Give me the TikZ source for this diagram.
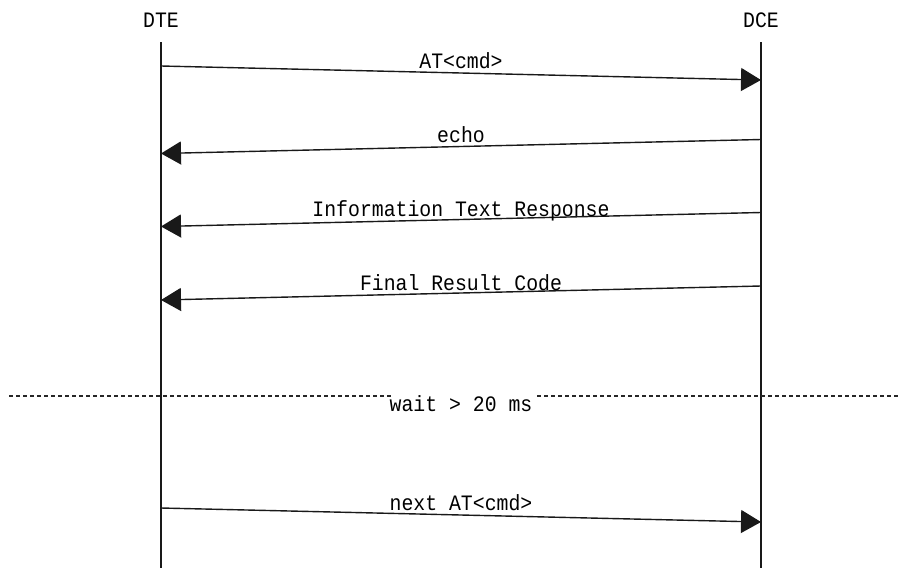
\documentclass[tikz,border=0pt]{standalone}
\usepackage{fontspec}
\newfontfamily\seqfont[FakeStretch=0.9]{Liberation Mono}
\usetikzlibrary{arrows.meta}
\begin{document}
\begin{tikzpicture}[x=1pt,y=-1pt,
  lbl/.style={font=\seqfont\fontsize{22}{26}\selectfont, inner sep=0pt, anchor=base, text=black},
  lifeline/.style={line width=1.6pt, draw=black!90},
  msg/.style={line width=1.4pt, draw=black!90, -{Triangle[length=20pt,width=23pt]}},
  sep/.style={line width=1.2pt, draw=black!85, dash pattern=on 4pt off 3pt}]
\useasboundingbox (0,0) rectangle (901,568);
% entities
\node[lbl] (dte) at (161,27) {DTE};
\node[lbl] (dce) at (761,27) {DCE};
\coordinate (dtetop) at (161,42);
\coordinate (dtebot) at (161,568);
\coordinate (dcetop) at (761,42);
\coordinate (dcebot) at (761,568);
\draw[lifeline] (dtetop) -- (dtebot);
\draw[lifeline] (dcetop) -- (dcebot);
% message end points
\coordinate (m1a) at (161,66);   \coordinate (m1b) at (761,80);
\coordinate (m2a) at (761,139.5);\coordinate (m2b) at (161,153.5);
\coordinate (m3a) at (761,212.5);\coordinate (m3b) at (161,226.5);
\coordinate (m4a) at (761,286);  \coordinate (m4b) at (161,300);
\coordinate (m5a) at (161,508);  \coordinate (m5b) at (761,522);
\draw[msg] (m1a) -- (m1b);
\draw[msg] (m2a) -- (m2b);
\draw[msg] (m3a) -- (m3b);
\draw[msg] (m4a) -- (m4b);
\draw[msg] (m5a) -- (m5b);
% labels
\node[lbl] (l1) at (461,68.5) {AT<cmd>};
\node[lbl] (l2) at (461,142) {echo};
\node[lbl] (l3) at (461,216.5) {Information Text Response};
\node[lbl] (l4) at (461,290.5) {Final Result Code};
\node[lbl] (l5) at (461,510.5) {next AT<cmd>};
% separator
\node[lbl] (wait) at (461,411.5) {wait > 20 ms};
\coordinate (sepl) at (9,396);
\coordinate (sepli) at (391,396);
\coordinate (sepri) at (537,396);
\coordinate (sepr) at (901,396);
\draw[sep] (sepl) -- (sepli);
\draw[sep] (sepri) -- (sepr);
\end{tikzpicture}
\end{document}
